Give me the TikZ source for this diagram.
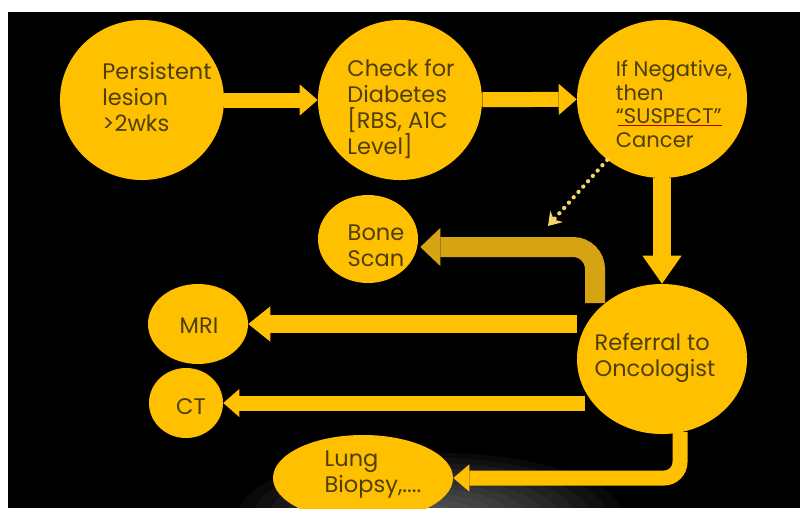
\documentclass[tikz,border=0pt]{standalone}
\usepackage{fontspec}
\setmainfont{Poppins}
\usetikzlibrary{shapes.geometric,arrows.meta,calc}
\definecolor{DiscGold}{HTML}{FFC000}
\definecolor{BoneGold}{HTML}{D6A412}
\definecolor{InkBrown}{HTML}{4E3F0A}
\definecolor{HintYellow}{HTML}{F4D36A}

\begin{document}
\begin{tikzpicture}[x=0.025cm,y=-0.025cm,
  every node/.style={font=\fontsize{16}{18.5}\selectfont, text=InkBrown},
  disc/.style={ellipse, fill=DiscGold, draw=none, inner sep=0pt},
  caption/.style={align=left, inner sep=0pt},
  bigarrow/.style n args={3}{draw=DiscGold, line width=#1,
    -{Triangle[width=#2, length=#3, line width=0pt]}}]
  \useasboundingbox (0,0) rectangle (800,508);
  \fill[white] (0,0) rectangle (800,508);
  \fill[black] (8,12) rectangle (800,508);
  \begin{scope}
    \clip (8,12) rectangle (800,508);
    \foreach \r in {1,...,12}
      \fill[white, opacity=0.035] (430,515) ellipse [x radius=\r*0.4cm, y radius=\r*0.13cm];
  \end{scope}
  % discs
  \node[disc, minimum width=4.1cm, minimum height=4cm] (lesion) at (142,100) {};
  \node[disc, minimum width=4.1cm, minimum height=4cm] (diabetes) at (400,100) {};
  \node[disc, minimum width=4.25cm, minimum height=3.95cm] (suspect) at (662,99) {};
  \node[disc, minimum width=2.5cm, minimum height=2.2cm] (bone) at (368,239) {};
  \node[disc, minimum width=2.5cm, minimum height=2cm] (mri) at (198,324) {};
  \node[disc, minimum width=1.85cm, minimum height=1.75cm] (ct) at (186,403) {};
  \node[disc, minimum width=4.25cm, minimum height=3.75cm] (referral) at (662,359) {};
  \node[disc, minimum width=4.5cm, minimum height=2.15cm] (biopsy) at (363,478) {};
  % texts
  \node[caption] (lesiontext) at (157,97) {Persistent\\lesion\\>2wks};
  \node[caption] (diabetestext) at (401,109) {Check for\\Diabetes\\{[}RBS, A1C\\Level{]}};
  \node[caption, font=\fontsize{15}{17}\selectfont] (suspecttext) at (674,104) {If Negative,\\then\\“SUSPECT”\\Cancer};
  \draw[red!70!black, line width=0.4pt] (618,125) -- (722,125);
  \node[caption] (bonetext) at (376,246) {Bone\\Scan};
  \node[caption] (mritext) at (199,326) {MRI};
  \node[caption] (cttext) at (191,407) {CT};
  \node[caption] (referraltext) at (655,358) {Referral to\\Oncologist};
  \node[caption] (biopsytext) at (373,475) {Lung\\Biopsy,....};
  % connectors
  \coordinate (bonefrom) at (595,303);
  \coordinate (biopsyfrom) at (680,432);
  \coordinate (hint) at (548,226);
  \draw[bigarrow={0.375cm}{0.78cm}{0.45cm}] (lesion) -- (diabetes);
  \draw[bigarrow={0.375cm}{0.78cm}{0.45cm}] (diabetes) -- (suspect);
  \draw[bigarrow={0.45cm}{0.98cm}{0.7cm}] (suspect) -- (referral);
  \draw[bigarrow={0.45cm}{0.88cm}{0.55cm}] (mri.east -| referral.west) -- (mri.east);
  \draw[bigarrow={0.375cm}{0.7cm}{0.4cm}] ($(ct.east -| referral.west)+(8,0)$) -- (ct.east);
  \draw[bigarrow={0.5cm}{0.95cm}{0.5cm}, draw=BoneGold, rounded corners=0.55cm] (bonefrom) |- ($(bone.east)+(2,8)$);
  \draw[bigarrow={0.375cm}{0.68cm}{0.4cm}, rounded corners=0.4cm] (biopsyfrom) |- (biopsy.east);
  \draw[HintYellow, line width=3pt, line cap=round, dash pattern=on 0.1pt off 5pt,
    -{Stealth[length=0.32cm, width=0.42cm]}] (suspect.228) -- (hint);
\end{tikzpicture}
\end{document}
